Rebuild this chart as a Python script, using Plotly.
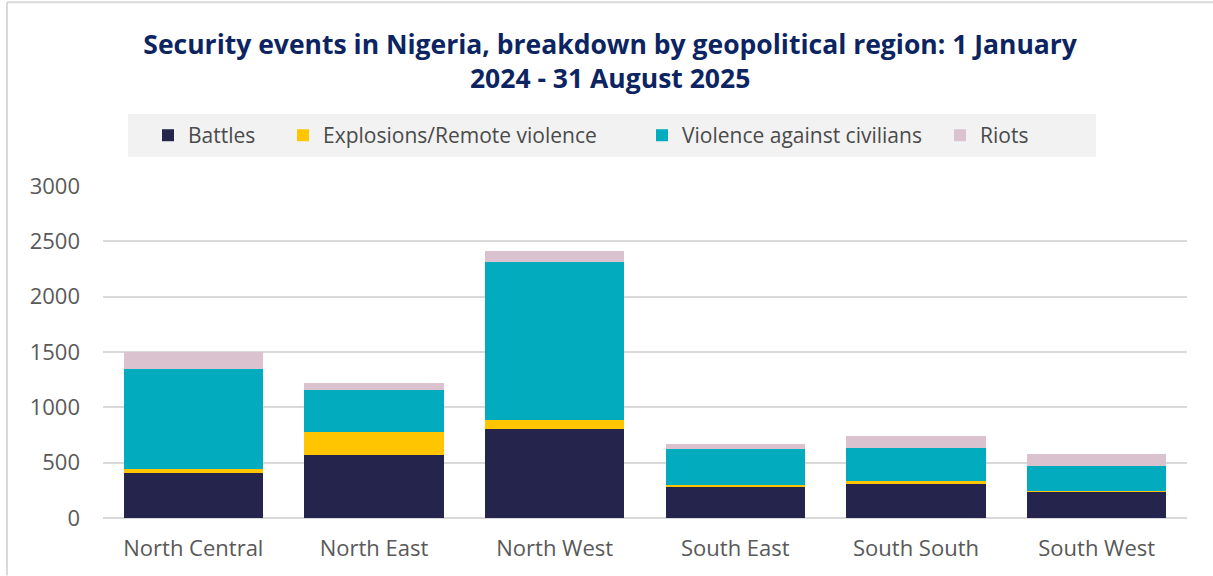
import plotly.graph_objects as go

regions = ["North Central", "North East", "North West", "South East", "South South", "South West"]
battles = [406, 569, 807, 285, 303, 240]
explosions = [34, 204, 75, 12, 33, 3]
vac = [902, 382, 1435, 327, 297, 225]
riots = [158, 63, 99, 46, 106, 112]

series_names = ["Battles", "Explosions/Remote violence", "Violence against civilians", "Riots"]
series_vals = [battles, explosions, vac, riots]
series_colors = ["#24244c", "#ffc600", "#03abbf", "#dbc2cf"]
yticks = [0, 500, 1000, 1500, 2000, 2500, 3000]

W, H = 1213, 576
L, R, T, B = 103, 1187, 186, 518.5
pw, ph = R - L, B - T

def px(x):
    return (x - L) / pw

def py(y):
    return (B - y) / ph

# legend square left edges in the reference (pixels)
legend_x = [168, 303, 662, 960]
legend_keys = ["legend", "legend2", "legend3", "legend4"]

fig = go.Figure()
for name, vals, col, lk in zip(series_names, series_vals, series_colors, legend_keys):
    fig.add_trace(go.Bar(x=regions, y=vals, name=name, legend=lk,
                         marker=dict(color=col, line=dict(width=0))))

FONT = "Open Sans"
legend_layout = {}
for lk, lx in zip(legend_keys, legend_x):
    legend_layout[lk] = dict(
        orientation="h", x=px(lx - 20), xanchor="left", y=py(135.5), yanchor="middle",
        bgcolor="rgba(0,0,0,0)", font=dict(family=FONT, size=21, color="#4a4a4a"),
        itemclick=False, itemdoubleclick=False, borderwidth=0, visible=True,
    )

fig.update_layout(
    width=W, height=H,
    showlegend=True,
    barmode="stack", bargap=0.23,
    paper_bgcolor="white", plot_bgcolor="white",
    font=dict(family=FONT, color="#595959", size=22),
    margin=dict(l=L, r=W - R, t=T, b=H - B, pad=0),
    title=dict(
        text="Security events in Nigeria, breakdown by geopolitical region: 1 January<br>2024 - 31 August 2025",
        x=0.503, xanchor="center", xref="container",
        y=1 - 54 / H, yanchor="top",
        font=dict(family=FONT, size=26.5, color="#0c2461", weight="bold"),
    ),
    xaxis=dict(showgrid=False, showline=False, ticks="", tickfont=dict(size=22, color="#595959"),
               ticklabelstandoff=15),
    yaxis=dict(range=[0, 3000], tickvals=yticks, showgrid=True, gridcolor="#d9d9d9", gridwidth=2,
               zeroline=True, zerolinecolor="#d9d9d9", zerolinewidth=2,
               tickfont=dict(size=22, color="#595959"), ticklabelstandoff=22),
    shapes=[
        dict(type="rect", xref="paper", yref="paper", x0=px(128), x1=px(1096), y0=py(157), y1=py(114),
             fillcolor="#f2f2f2", line=dict(width=0), layer="below"),
        dict(type="line", xref="paper", yref="paper", x0=px(7), x1=px(W), y0=py(2), y1=py(2),
             line=dict(color="#d9d9d9", width=2)),
        dict(type="line", xref="paper", yref="paper", x0=px(7), x1=px(7), y0=py(2), y1=py(H),
             line=dict(color="#d9d9d9", width=2)),
    ],
    **legend_layout,
)

fig.write_html("out.html", config={"displayModeBar": False},
               post_script="document.body.style.margin='0';document.body.style.overflow='hidden';")
